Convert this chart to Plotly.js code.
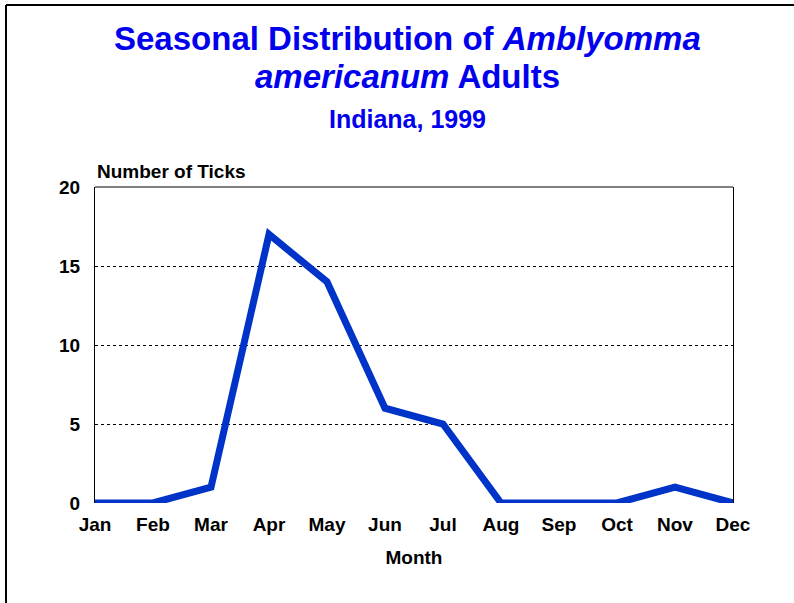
<!DOCTYPE html>
<html><head><meta charset="utf-8">
<script src="https://cdn.plot.ly/plotly-3.0.1.min.js"></script>
<style>html,body{margin:0;padding:0;background:#fff;}#chart{width:794px;height:603px;}</style>
</head><body><div id="chart"></div>
<script>
const months = ['Jan','Feb','Mar','Apr','May','Jun','Jul','Aug','Sep','Oct','Nov','Dec'];
const ticks = [0,0,1,17,14,6,5,0,0,0,1,0];
const yTickVals = [0,5,10,15,20];

const L=95, R=733, T=187, B=503;
const px = x => (x-L)/(R-L);
const py = y => (B-y)/(B-T);
const F = 'Liberation Sans, Arial, sans-serif';
const blue = '#0000EE';

const layout = {
  width:794, height:603,
  margin:{l:L, r:794-R, t:T, b:603-B, pad:0},
  paper_bgcolor:'#fff', plot_bgcolor:'#fff',
  showlegend:false,
  font:{family:F, size:19, color:'#000'},
  xaxis:{
    type:'linear', range:[0,11], tickvals:months.map((m,i)=>i), ticktext:months,
    showgrid:false, zeroline:false, showline:false, ticks:'',
    tickfont:{family:F, size:19, color:'#000', weight:'bold'},
    ticklabelstandoff:8,
    title:{text:'<b>Month</b>', font:{family:F, size:19, color:'#000'}, standoff:16},
    fixedrange:true
  },
  yaxis:{
    range:[0,20], tickvals:yTickVals, ticktext:yTickVals.map(String),
    showgrid:true, gridcolor:'#000', griddash:'dot', gridwidth:1,
    zeroline:false, showline:true, linecolor:'#000', linewidth:1, mirror:true, ticks:'',
    tickfont:{family:F, size:19, color:'#000', weight:'bold'},
    ticklabelstandoff:10,
    fixedrange:true
  },
  shapes:[
    {type:'line', xref:'paper', yref:'paper', x0:0, x1:1, y0:1, y1:1, line:{color:'#000', width:1}},
    {type:'line', xref:'paper', yref:'paper', x0:px(6), x1:px(796), y0:py(5), y1:py(5), line:{color:'#000', width:2}},
    {type:'line', xref:'paper', yref:'paper', x0:px(6), x1:px(6), y0:py(5), y1:py(605), line:{color:'#000', width:2}}
  ],
  annotations:[
    {xref:'paper', yref:'paper', x:px(407), y:py(39), xanchor:'center', yanchor:'middle', showarrow:false,
     text:'<b>Seasonal Distribution of <i>Amblyomma</i></b>', font:{family:F, size:33, color:blue}},
    {xref:'paper', yref:'paper', x:px(407), y:py(77), xanchor:'center', yanchor:'middle', showarrow:false,
     text:'<b><i>americanum</i> Adults</b>', font:{family:F, size:33, color:blue}},
    {xref:'paper', yref:'paper', x:px(407), y:py(119), xanchor:'center', yanchor:'middle', showarrow:false,
     text:'<b>Indiana, 1999</b>', font:{family:F, size:25, color:blue}},
    {xref:'paper', yref:'paper', x:px(95), y:py(171), xanchor:'left', yanchor:'middle', showarrow:false,
     text:'<b>Number of Ticks</b>', font:{family:F, size:19, color:'#000'}}
  ]
};

const data = [{
  type:'scatter', mode:'lines', x:months.map((m,i)=>i), y:ticks,
  line:{color:'#0033C8', width:7}, cliponaxis:false, hoverinfo:'skip'
}];

Plotly.newPlot('chart', data, layout, {staticPlot:true, displayModeBar:false});
</script></body></html>
